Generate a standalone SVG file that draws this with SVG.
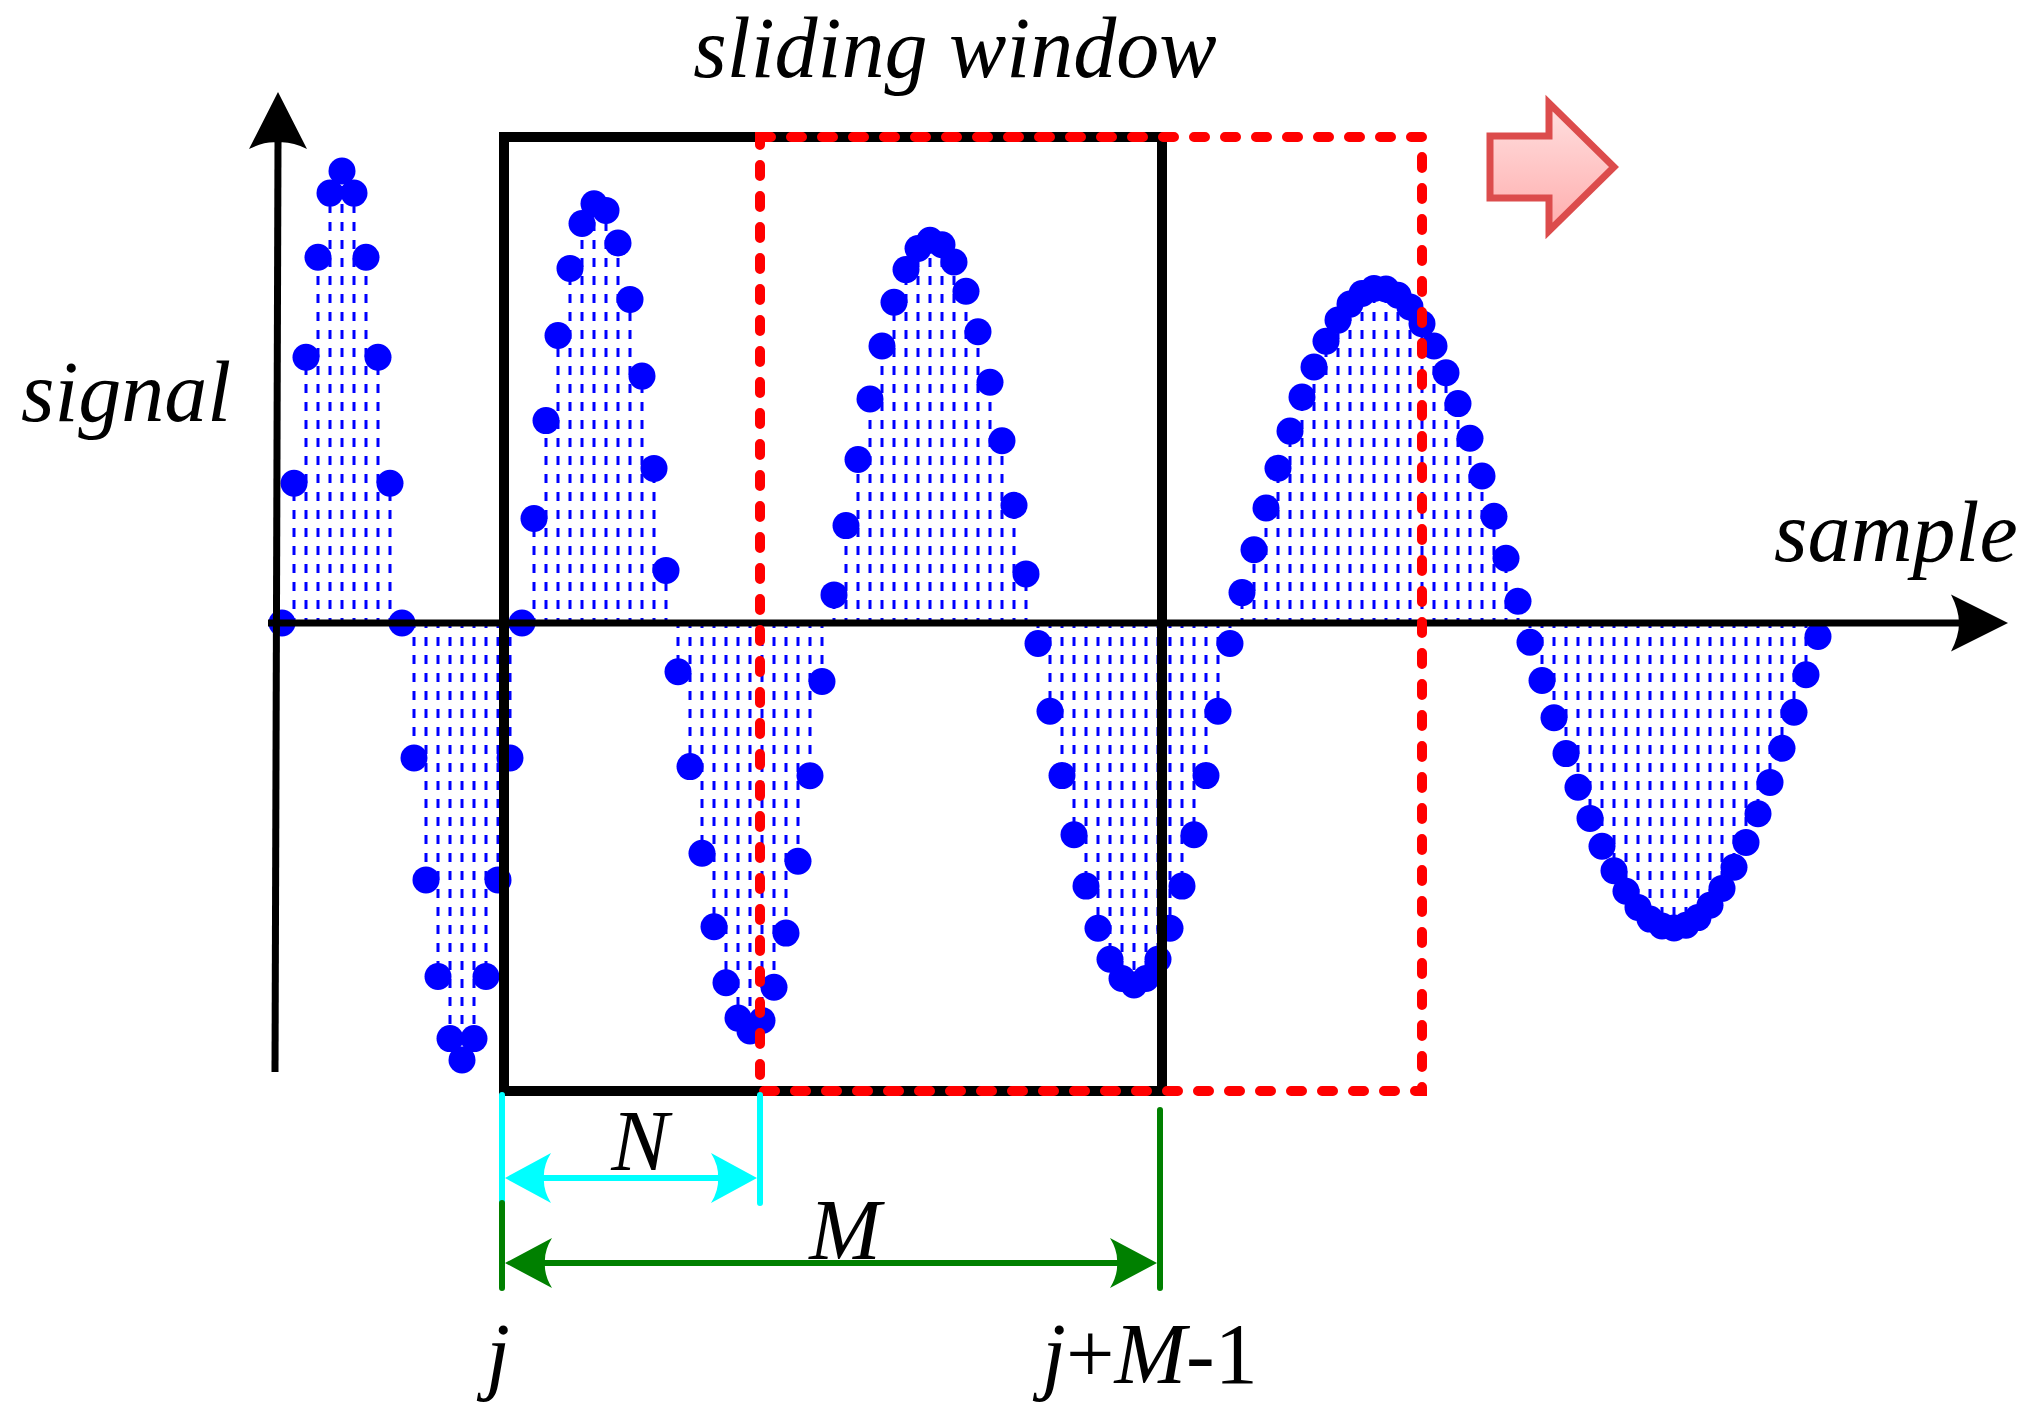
<svg xmlns="http://www.w3.org/2000/svg" width="2031" height="1428" viewBox="0 0 2031 1428">
<defs>
<linearGradient id="pinkGrad" x1="0" y1="0" x2="0" y2="1">
<stop offset="0" stop-color="#FFE0E0"/>
<stop offset="1" stop-color="#FFADAD"/>
</linearGradient>
<style>
.stem{stroke:#0000FF;stroke-width:3;stroke-dasharray:9 9;stroke-dashoffset:4;fill:none}
.dots circle{fill:#0000FF}
.axis{stroke:#000;stroke-width:7;fill:none}
.head{fill:#000;stroke:none}
.label{font-family:Liberation Serif,DejaVu Serif,serif;font-style:italic;font-size:86px;fill:#000}
.up{font-style:normal}
.dimc{stroke:#00FFFF;stroke-width:6;stroke-linecap:round;fill:none}
.dimg{stroke:#008000;stroke-width:6;stroke-linecap:round;fill:none}
</style>
</defs>
<rect width="2031" height="1428" fill="#FFFFFF"/>

<g id="signal">
<path class="stem" d="M294 623V483.3M306 623V357.3M318 623V257.3M330 623V193.1M342 623V171M354 623V193.1M366 623V257.3M378 623V357.3M390 623V483.3
M414 623V758M426 623V879.9M438 623V976.5M450 623V1038.6M462 623V1060M474 623V1038.6M486 623V976.5M498 623V879.9M510 623V758
M534 623V518.5M546 623V420.6M558 623V335.5M570 623V268.4M582 623V223.5M594 623V203.8M606 623V210.4M618 623V243M630 623V299.4M642 623V376.1M654 623V468.4M666 623V570.4
M678 623V671.8M690 623V766.6M702 623V853.2M714 623V926.7M726 623V982.7M738 623V1018.1M750 623V1031M762 623V1020.4M774 623V987.2M786 623V933.1M798 623V861.2M810 623V775.7M822 623V681.5
M834 623V594.9M846 623V525.6M858 623V459.5M870 623V399M882 623V346M894 623V302.2M906 623V269.6M918 623V248.5M930 623V240.2M942 623V244.7M954 623V262M966 623V291.3M978 623V331.8M990 623V382.3M1002 623V440.7M1014 623V505.3M1026 623V573.9
M1038 623V643.5M1050 623V711.2M1062 623V775.6M1074 623V834.7M1086 623V886.1M1098 623V928.2M1110 623V959.3M1122 623V978.5M1134 623V985M1146 623V978.5M1158 623V959.3M1170 623V928.2M1182 623V886.1M1194 623V834.7M1206 623V775.6M1218 623V711.2M1230 623V643.5
M1242 623V592.6M1254 623V549.7M1266 623V508M1278 623V468.2M1290 623V431.1M1302 623V397.1M1314 623V367M1326 623V341.2M1338 623V320.1M1350 623V304.1M1362 623V293.5M1374 623V288.4M1386 623V289M1398 623V295.2M1410 623V306.9M1422 623V323.8M1434 623V346M1446 623V372.7M1458 623V403.6M1470 623V438.2M1482 623V476M1494 623V516.2M1506 623V558.2M1518 623V601.3
M1530 623V642.3M1542 623V680.5M1554 623V717.8M1566 623V753.6M1578 623V787.3M1590 623V818.4M1602 623V846.3M1614 623V870.7M1626 623V891.2M1638 623V907.4M1650 623V919.1M1662 623V925.9M1674 623V928M1686 623V925.2M1698 623V917.6M1710 623V905.2M1722 623V888.4M1734 623V867.3M1746 623V842.4M1758 623V813.8M1770 623V782.4M1782 623V748.3M1794 623V712.3M1806 623V674.8M1818 623V636.5"/>
<g class="dots">
<circle cx="282" cy="623" r="13.5"/><circle cx="294" cy="483.3" r="13.5"/><circle cx="306" cy="357.3" r="13.5"/><circle cx="318" cy="257.3" r="13.5"/><circle cx="330" cy="193.1" r="13.5"/><circle cx="342" cy="171" r="13.5"/><circle cx="354" cy="193.1" r="13.5"/><circle cx="366" cy="257.3" r="13.5"/><circle cx="378" cy="357.3" r="13.5"/><circle cx="390" cy="483.3" r="13.5"/>
<circle cx="402" cy="623" r="13.5"/><circle cx="414" cy="758" r="13.5"/><circle cx="426" cy="879.9" r="13.5"/><circle cx="438" cy="976.5" r="13.5"/><circle cx="450" cy="1038.6" r="13.5"/><circle cx="462" cy="1060" r="13.5"/><circle cx="474" cy="1038.6" r="13.5"/><circle cx="486" cy="976.5" r="13.5"/><circle cx="498" cy="879.9" r="13.5"/><circle cx="510" cy="758" r="13.5"/>
<circle cx="522" cy="623" r="13.5"/><circle cx="534" cy="518.5" r="13.5"/><circle cx="546" cy="420.6" r="13.5"/><circle cx="558" cy="335.5" r="13.5"/><circle cx="570" cy="268.4" r="13.5"/><circle cx="582" cy="223.5" r="13.5"/><circle cx="594" cy="203.8" r="13.5"/><circle cx="606" cy="210.4" r="13.5"/><circle cx="618" cy="243" r="13.5"/><circle cx="630" cy="299.4" r="13.5"/><circle cx="642" cy="376.1" r="13.5"/><circle cx="654" cy="468.4" r="13.5"/><circle cx="666" cy="570.4" r="13.5"/>
<circle cx="678" cy="671.8" r="13.5"/><circle cx="690" cy="766.6" r="13.5"/><circle cx="702" cy="853.2" r="13.5"/><circle cx="714" cy="926.7" r="13.5"/><circle cx="726" cy="982.7" r="13.5"/><circle cx="738" cy="1018.1" r="13.5"/><circle cx="750" cy="1031" r="13.5"/><circle cx="762" cy="1020.4" r="13.5"/><circle cx="774" cy="987.2" r="13.5"/><circle cx="786" cy="933.1" r="13.5"/><circle cx="798" cy="861.2" r="13.5"/><circle cx="810" cy="775.7" r="13.5"/><circle cx="822" cy="681.5" r="13.5"/>
<circle cx="834" cy="594.9" r="13.5"/><circle cx="846" cy="525.6" r="13.5"/><circle cx="858" cy="459.5" r="13.5"/><circle cx="870" cy="399" r="13.5"/><circle cx="882" cy="346" r="13.5"/><circle cx="894" cy="302.2" r="13.5"/><circle cx="906" cy="269.6" r="13.5"/><circle cx="918" cy="248.5" r="13.5"/><circle cx="930" cy="240.2" r="13.5"/><circle cx="942" cy="244.7" r="13.5"/><circle cx="954" cy="262" r="13.5"/><circle cx="966" cy="291.3" r="13.5"/><circle cx="978" cy="331.8" r="13.5"/><circle cx="990" cy="382.3" r="13.5"/><circle cx="1002" cy="440.7" r="13.5"/><circle cx="1014" cy="505.3" r="13.5"/><circle cx="1026" cy="573.9" r="13.5"/>
<circle cx="1038" cy="643.5" r="13.5"/><circle cx="1050" cy="711.2" r="13.5"/><circle cx="1062" cy="775.6" r="13.5"/><circle cx="1074" cy="834.7" r="13.5"/><circle cx="1086" cy="886.1" r="13.5"/><circle cx="1098" cy="928.2" r="13.5"/><circle cx="1110" cy="959.3" r="13.5"/><circle cx="1122" cy="978.5" r="13.5"/><circle cx="1134" cy="985" r="13.5"/><circle cx="1146" cy="978.5" r="13.5"/><circle cx="1158" cy="959.3" r="13.5"/><circle cx="1170" cy="928.2" r="13.5"/><circle cx="1182" cy="886.1" r="13.5"/><circle cx="1194" cy="834.7" r="13.5"/><circle cx="1206" cy="775.6" r="13.5"/><circle cx="1218" cy="711.2" r="13.5"/><circle cx="1230" cy="643.5" r="13.5"/>
<circle cx="1242" cy="592.6" r="13.5"/><circle cx="1254" cy="549.7" r="13.5"/><circle cx="1266" cy="508" r="13.5"/><circle cx="1278" cy="468.2" r="13.5"/><circle cx="1290" cy="431.1" r="13.5"/><circle cx="1302" cy="397.1" r="13.5"/><circle cx="1314" cy="367" r="13.5"/><circle cx="1326" cy="341.2" r="13.5"/><circle cx="1338" cy="320.1" r="13.5"/><circle cx="1350" cy="304.1" r="13.5"/><circle cx="1362" cy="293.5" r="13.5"/><circle cx="1374" cy="288.4" r="13.5"/><circle cx="1386" cy="289" r="13.5"/><circle cx="1398" cy="295.2" r="13.5"/><circle cx="1410" cy="306.9" r="13.5"/><circle cx="1422" cy="323.8" r="13.5"/><circle cx="1434" cy="346" r="13.5"/><circle cx="1446" cy="372.7" r="13.5"/><circle cx="1458" cy="403.6" r="13.5"/><circle cx="1470" cy="438.2" r="13.5"/><circle cx="1482" cy="476" r="13.5"/><circle cx="1494" cy="516.2" r="13.5"/><circle cx="1506" cy="558.2" r="13.5"/><circle cx="1518" cy="601.3" r="13.5"/>
<circle cx="1530" cy="642.3" r="13.5"/><circle cx="1542" cy="680.5" r="13.5"/><circle cx="1554" cy="717.8" r="13.5"/><circle cx="1566" cy="753.6" r="13.5"/><circle cx="1578" cy="787.3" r="13.5"/><circle cx="1590" cy="818.4" r="13.5"/><circle cx="1602" cy="846.3" r="13.5"/><circle cx="1614" cy="870.7" r="13.5"/><circle cx="1626" cy="891.2" r="13.5"/><circle cx="1638" cy="907.4" r="13.5"/><circle cx="1650" cy="919.1" r="13.5"/><circle cx="1662" cy="925.9" r="13.5"/><circle cx="1674" cy="928" r="13.5"/><circle cx="1686" cy="925.2" r="13.5"/><circle cx="1698" cy="917.6" r="13.5"/><circle cx="1710" cy="905.2" r="13.5"/><circle cx="1722" cy="888.4" r="13.5"/><circle cx="1734" cy="867.3" r="13.5"/><circle cx="1746" cy="842.4" r="13.5"/><circle cx="1758" cy="813.8" r="13.5"/><circle cx="1770" cy="782.4" r="13.5"/><circle cx="1782" cy="748.3" r="13.5"/><circle cx="1794" cy="712.3" r="13.5"/><circle cx="1806" cy="674.8" r="13.5"/><circle cx="1818" cy="636.5" r="13.5"/>
</g>
</g>

<g id="axes">
<path class="axis" d="M278 140L275 1072"/>
<path class="head" d="M278 92L307 149Q291 141 278 142.5Q265 141 249 149Z"/>
<path class="axis" d="M268 623H1962"/>
<path class="head" d="M2008 623L1951 594.5Q1959 610 1959 623Q1959 636 1951 651.5Z"/>
</g>

<g id="window-current">
<rect x="504" y="137" width="658" height="954" fill="none" stroke="#000000" stroke-width="10"/>
</g>
<g id="window-next">
<rect x="760" y="137" width="662" height="954" fill="none" stroke="#FF0000" stroke-width="10" stroke-dasharray="11 20" stroke-linecap="round"/>
</g>

<g id="slide-arrow">
<polygon points="1490,136 1549,136 1549,103 1614,167 1549,231 1549,198 1490,198" fill="url(#pinkGrad)" stroke="#DC4C4C" stroke-width="7"/>
</g>

<g id="connectors">
<path class="dimc" d="M502 1095V1203M760 1095V1203M540 1178H722"/>
<path fill="#00FFFF" d="M505 1178L551 1153Q543 1166 544 1178Q543 1190 551 1203Z"/>
<path fill="#00FFFF" d="M757 1178L711 1153Q719 1166 718 1178Q719 1190 711 1203Z"/>
<path class="dimg" d="M502 1203V1288M1160 1110V1288M540 1263H1120"/>
<path fill="#008000" d="M505 1263L552 1238Q544 1251 545 1263Q544 1275 552 1288Z"/>
<path fill="#008000" d="M1157 1263L1110 1238Q1118 1251 1117 1263Q1118 1275 1110 1288Z"/>
</g>

<g id="labels" font-family="Liberation Serif, DejaVu Serif, serif">
<text class="label" font-family="Liberation Serif, DejaVu Serif, serif" x="955" y="77" text-anchor="middle">sliding window</text>
<text class="label" font-family="Liberation Serif, DejaVu Serif, serif" x="21" y="421">signal</text>
<text class="label" font-family="Liberation Serif, DejaVu Serif, serif" x="1774" y="561">sample</text>
<text class="label" font-family="Liberation Serif, DejaVu Serif, serif" x="640" y="1170" text-anchor="middle">N</text>
<text class="label" font-family="Liberation Serif, DejaVu Serif, serif" x="845" y="1259" text-anchor="middle">M</text>
<text class="label" font-family="Liberation Serif, DejaVu Serif, serif" x="486" y="1383">j</text>
<text class="label" font-family="Liberation Serif, DejaVu Serif, serif" x="1042" y="1383">j<tspan class="up">+</tspan>M<tspan class="up">-1</tspan></text>
</g>
</svg>
